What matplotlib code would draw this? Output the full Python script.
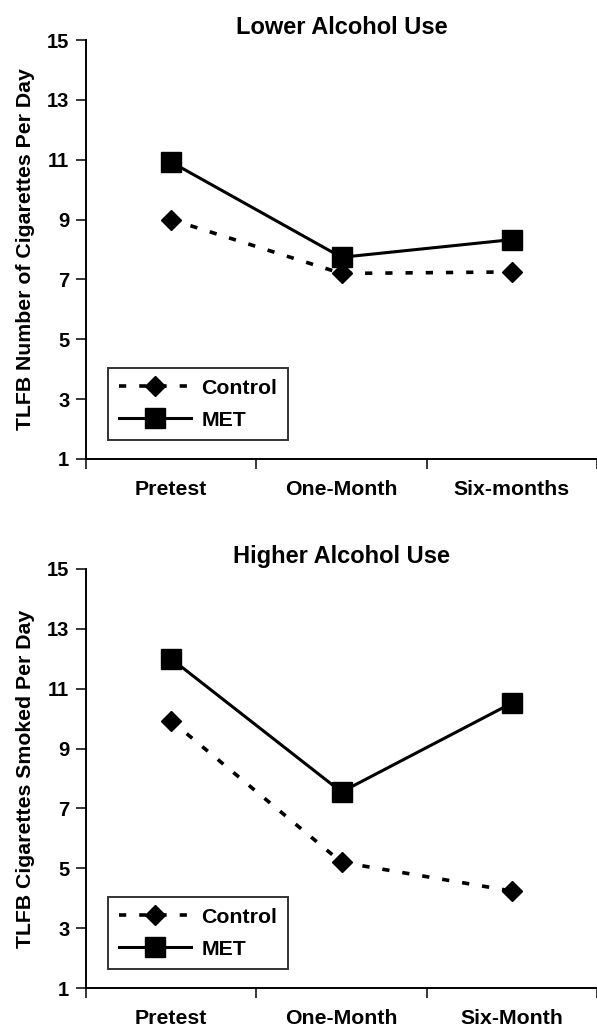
import matplotlib
matplotlib.use('Agg')
import matplotlib.pyplot as plt
import numpy as np

# 数据
categories_top = ['Pretest', 'One-Month', 'Six-months']
categories_bottom = ['Pretest', 'One-Month', 'Six-Month']
control_lower = [9.0, 7.2, 7.25]
met_lower = [10.92, 7.74, 8.33]
control_higher = [9.93, 5.2, 4.24]
met_higher = [12.0, 7.55, 10.52]
yticks = [1, 3, 5, 7, 9, 11, 13, 15]

plt.rcParams['font.family'] = ['Liberation Sans', 'DejaVu Sans']
plt.rcParams['font.weight'] = 'bold'

fig = plt.figure(figsize=(5.97, 10.28), dpi=100)

W, H = 597.0, 1028.0
left = 86 / W
width = 1 - left
height = 419 / H
ax_top = fig.add_axes([left, 1 - 459 / H, width, height])
ax_bot = fig.add_axes([left, 1 - 988 / H, width, height])


def draw_panel(ax, title, ylabel, cats, control, met):
    x = np.arange(len(cats)) + 0.5
    ax.plot(x, control, color='black', linewidth=2.6, dashes=(2, 3.6),
            marker='D', markersize=10, label='Control')
    ax.plot(x, met, color='black', linewidth=2.2, linestyle='-',
            marker='s', markersize=14, label='MET')

    ax.set_xlim(0, 511 / 173)
    ax.set_ylim(1, 15)
    ax.set_yticks(yticks)
    ax.set_yticklabels([str(t) for t in yticks], fontsize=14.5, fontweight='bold')
    ax.set_xticks([0, 1, 2, 3])
    ax.set_xticklabels([])
    ax.set_xticks(x, minor=True)
    ax.set_xticklabels(cats, minor=True, fontsize=15.3, fontweight='bold')
    ax.tick_params(axis='x', which='minor', length=0, pad=15)
    ax.tick_params(axis='both', which='major', direction='out', length=7,
                   width=1.1, pad=5)

    for s in ['top', 'right']:
        ax.spines[s].set_visible(False)
    for s in ['left', 'bottom']:
        ax.spines[s].set_linewidth(1.4)

    ax.set_title(title, fontsize=17, fontweight='bold', pad=4)
    ax.set_ylabel(ylabel, fontsize=15.3, fontweight='bold')
    ax.yaxis.set_label_coords(-0.10, 0.5)

    leg = ax.legend(loc='lower left', bbox_to_anchor=(0.043, 0.045),
                    borderaxespad=0, fancybox=False, handlelength=3.4,
                    handletextpad=0.5, labelspacing=0.6, borderpad=0.5,
                    prop={'size': 15.3, 'weight': 'bold'})
    leg.get_frame().set_edgecolor('black')
    leg.get_frame().set_linewidth(1.4)


draw_panel(ax_top, 'Lower Alcohol Use', 'TLFB Number of Cigarettes Per Day',
           categories_top, control_lower, met_lower)
draw_panel(ax_bot, 'Higher Alcohol Use', 'TLFB Cigarettes Smoked Per Day',
           categories_bottom, control_higher, met_higher)

plt.savefig('out.png', dpi=100)
